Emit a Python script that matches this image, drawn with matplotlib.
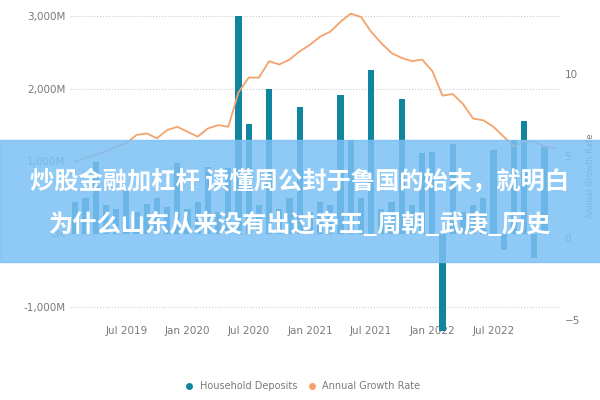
import matplotlib.pyplot as plt
import matplotlib.patches as mpatches
import numpy as np

# monthly, Feb 2019 .. Jan 2023
months = np.arange(48)
deposits = [450, 500, 990, 400, 350, 600, 300, 420, 500, 380, 980, 350,
            450, 930, 300, 910, 3000, 1510, 400, 1990, 350, 500, 1740, 300,
            450, 400, 1910, 1300, 500, 2250, 350, 450, 1860, 400, 1110, 1130,
            -1330, 1240, 300, 400, 500, 1160, -220, 1300, 1550, -330, 1200, 0]
growth = [4.7, 4.9, 5.1, 5.3, 5.6, 5.8, 6.3, 6.4, 6.1, 6.6, 6.8, 6.5,
          6.2, 6.7, 6.9, 6.8, 8.9, 9.8, 9.8, 10.8, 10.6, 10.9, 11.4, 11.8,
          12.3, 12.6, 13.2, 13.7, 13.5, 12.6, 11.9, 11.3, 11.0, 10.8, 10.9, 10.2,
          8.7, 8.8, 8.2, 7.3, 7.2, 6.8, 6.2, 5.6, 5.9, 5.9, 5.6, 5.5]
tick_pos = [5, 11, 17, 23, 29, 35, 41]
tick_labels = ["Jul 2019", "Jan 2020", "Jul 2020", "Jan 2021", "Jul 2021", "Jan 2022", "Jul 2022"]

gray = "#7a7a7a"
fig = plt.figure(figsize=(6, 4), dpi=100)
ax = fig.add_axes([0.117, 0.15, 0.816, 0.82])
ax.bar(months[:47], deposits[:47], width=0.6, color="#11849e", zorder=2)
ax.set_xlim(-0.5, 47.5)
ax.set_ylim(-1450, 3050)
ax.set_yticks([-1000, 0, 1000, 2000, 3000])
ax.set_yticklabels(["-1,000M", "0M", "1,000M", "2,000M", "3,000M"])
ax.grid(axis="y", linestyle=":", color="#cccccc", linewidth=0.8, zorder=0)
ax.set_xticks(tick_pos)
ax.set_xticklabels(tick_labels)
for s in ax.spines.values():
    s.set_visible(False)
ax.tick_params(length=0, colors=gray, labelsize=7.5)
ax.tick_params(axis="x", pad=-10)

ax2 = ax.twinx()
ax2.plot(months, growth, color="#f4a26b", linewidth=1.3, zorder=3)
ax2.set_ylim(-6.2, 13.8)
ax2.set_yticks([-5, 0, 5, 10])
for s in ax2.spines.values():
    s.set_visible(False)
ax2.tick_params(length=0, colors=gray, labelsize=7.5)
ax2.set_ylabel("Annual Growth Rate", color=gray, fontsize=6)

h = [plt.Line2D([], [], marker="o", ls="", color="#11849e", markersize=4),
     plt.Line2D([], [], marker="o", ls="", color="#f4a26b", markersize=4)]
fig.legend(h, ["Household Deposits", "Annual Growth Rate"], loc="lower center",
           bbox_to_anchor=(0.5, 0.0), ncol=2, frameon=False, fontsize=7,
           handletextpad=0.1, columnspacing=0.5, labelcolor=gray)

# overlay banner
fig.patches.append(mpatches.Rectangle((0, 0.345), 1, 0.305, transform=fig.transFigure,
                                      color="#7cc0f4", alpha=0.85, zorder=10))
fig.text(0.5, 0.545, "炒股金融加杠杆 读懂周公封于鲁国的始末，就明白", ha="center", va="center",
         fontsize=17.5, color="white", fontweight="bold", zorder=11,
         family=["Noto Sans CJK SC", "DejaVu Sans"])
fig.text(0.5, 0.44, "为什么山东从来没有出过帝王_周朝_武庚_历史", ha="center", va="center",
         fontsize=17.5, color="white", fontweight="bold", zorder=11,
         family=["Noto Sans CJK SC", "DejaVu Sans"])

fig.savefig("out.png", dpi=100)
